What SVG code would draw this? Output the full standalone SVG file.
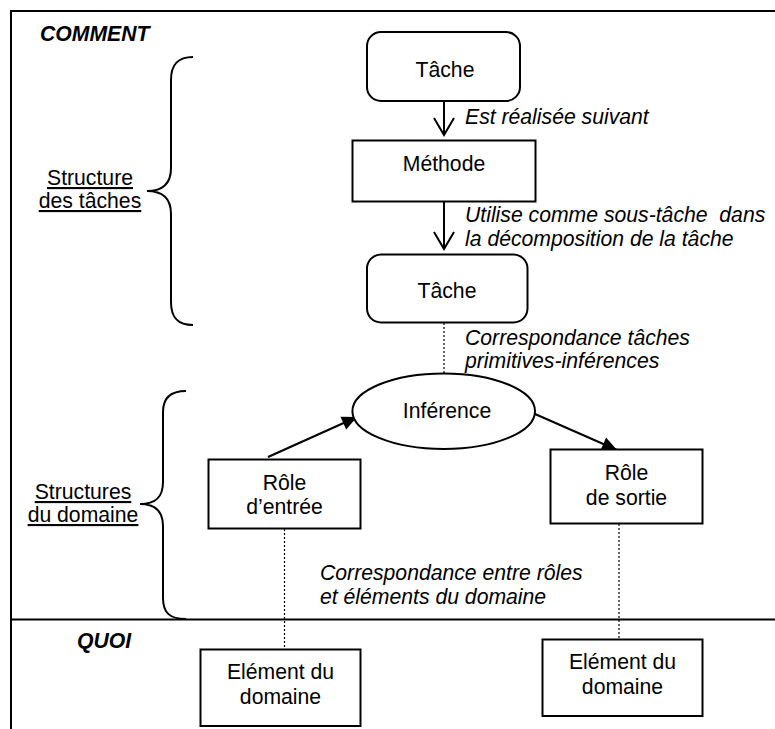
<svg xmlns="http://www.w3.org/2000/svg" width="775" height="729" viewBox="0 0 775 729">
<style>
text{font-family:"Liberation Sans",Arial,sans-serif;font-size:21.2px;fill:#000}
.c{text-anchor:middle}
.i{font-style:italic}
.h{font-style:italic;font-weight:bold}
.u{text-decoration:underline}
.pre{white-space:pre}
.box{fill:#fff;stroke:#000;stroke-width:2}
.ln{fill:none;stroke:#000;stroke-width:2}
.dot{fill:none;stroke:#000;stroke-width:1.2;stroke-dasharray:2,2}
</style>
<defs>
<marker id="open" markerUnits="userSpaceOnUse" viewBox="-19 -12 21 24" refX="0" refY="0" markerWidth="21" markerHeight="24" orient="auto">
<path d="M-17,-10 L0,0 L-17,10" fill="none" stroke="#000" stroke-width="2"/>
</marker>
<marker id="fill" markerUnits="userSpaceOnUse" viewBox="-16 -8 17 16" refX="0" refY="0" markerWidth="17" markerHeight="16" orient="auto">
<path d="M-15,-7 L0,0 L-15,7 Z" fill="#000"/>
</marker>
</defs>
<g id="frame">
<path class="ln" d="M11,729 L11,11 L775,11"/>
<path class="ln" d="M11,619.5 L775,619.5"/>
<text class="h" x="40" y="41">COMMENT</text>
<text class="h" x="77" y="648">QUOI</text>
</g>
<g id="brace-taches">
<path class="ln" d="M193,57 C178,57 171,64 171,80 L171,168 C171,184 162,191 147,191 C162,191 171,198 171,214 L171,302 C171,318 178,325 193,325"/>
<text class="c u" x="90" y="185">Structure</text>
<text class="c u" x="90" y="208">des tâches</text>
</g>
<g id="brace-domaine">
<path class="ln" d="M186,391 C170,391 163,398 163,412 L163,482 C163,498 155,504 140,504 C155,504 163,511 163,526 L163,598 C163,613 170,619 186,619"/>
<text class="c u" x="83" y="499">Structures</text>
<text class="c u" x="83" y="522">du domaine</text>
</g>
<g id="connectors">
<path class="ln" d="M444,101 L444,135" marker-end="url(#open)"/>
<path class="ln" d="M444,202 L444,249" marker-end="url(#open)"/>
<path class="dot" d="M444,323 L444,373"/>
<path class="ln" d="M268,457 L357,417" marker-end="url(#fill)"/>
<path class="ln" d="M535,414 L617,450" marker-end="url(#fill)"/>
<path class="dot" d="M284.5,529 L284.5,649"/>
<path class="dot" d="M619,524 L619,639"/>
<text class="i" x="465" y="124">Est réalisée suivant</text>
<text class="i pre" x="465" y="222" xml:space="preserve">Utilise comme sous-tâche  dans</text>
<text class="i" x="465" y="246">la décomposition de la tâche</text>
<text class="i" x="465" y="345">Correspondance tâches</text>
<text class="i" x="465" y="368">primitives-inférences</text>
<text class="i" x="320" y="580">Correspondance entre rôles</text>
<text class="i" x="320" y="604">et éléments du domaine</text>
</g>
<g id="tache1">
<rect class="box" x="367" y="32" width="153" height="69" rx="14"/>
<text class="c" x="445" y="77">Tâche</text>
</g>
<g id="methode">
<rect class="box" x="352.5" y="140.5" width="183" height="61"/>
<text class="c" x="444" y="171">Méthode</text>
</g>
<g id="tache2">
<rect class="box" x="367" y="254.5" width="160.5" height="68" rx="14"/>
<text class="c" x="447" y="298">Tâche</text>
</g>
<g id="inference">
<ellipse class="box" cx="443.7" cy="411.2" rx="91.3" ry="37.8"/>
<text class="c" x="447" y="418">Inférence</text>
</g>
<g id="role-entree">
<rect class="box" x="208.5" y="459.5" width="152" height="69"/>
<text class="c" x="284.5" y="490">Rôle</text>
<text class="c" x="284.5" y="514">d’entrée</text>
</g>
<g id="role-sortie">
<rect class="box" x="550.5" y="449.5" width="152" height="74"/>
<text class="c" x="626.5" y="480">Rôle</text>
<text class="c" x="626.5" y="505">de sortie</text>
</g>
<g id="element1">
<rect class="box" x="200.5" y="649.5" width="160" height="76.5"/>
<text class="c" x="280.5" y="679">Elément du</text>
<text class="c" x="280.5" y="704">domaine</text>
</g>
<g id="element2">
<rect class="box" x="542.5" y="639.5" width="160" height="76.5"/>
<text class="c" x="622.5" y="669">Elément du</text>
<text class="c" x="622.5" y="694">domaine</text>
</g>
</svg>
